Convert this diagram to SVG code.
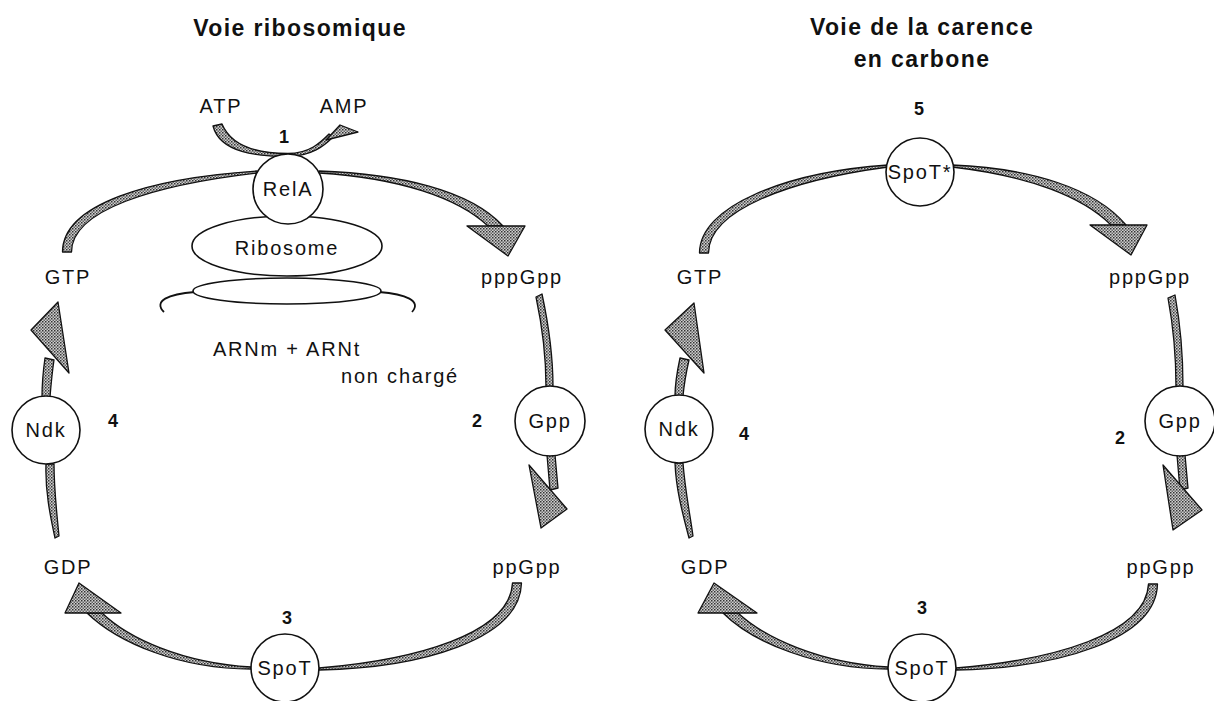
<svg xmlns="http://www.w3.org/2000/svg" width="1214" height="701" viewBox="0 0 1214 701">
<defs>
<pattern id="dots" width="3" height="3" patternUnits="userSpaceOnUse"><rect width="3" height="3" fill="#cfcfcf"/><rect width="1.5" height="1.5" fill="#333"/><rect x="1.5" y="1.5" width="1.5" height="1.5" fill="#666"/></pattern>
</defs>
<style>
text{font-family:"Liberation Sans",Arial,sans-serif;fill:#111;text-anchor:middle}
.lbl{font-size:20px;letter-spacing:1.8px}
.num{font-size:18px;font-weight:bold}
.ttl{font-size:23px;font-weight:bold;letter-spacing:1.4px}
.band{fill:url(#dots);stroke:#111;stroke-width:1.3;stroke-linejoin:round}
.node{fill:#fff;stroke:#111;stroke-width:1.6}
.ln{fill:none;stroke:#111;stroke-width:1.8}
</style>
<rect width="1214" height="701" fill="#fff"/>

<text class="ttl" x="300" y="36">Voie ribosomique</text>
<text class="ttl" x="922" y="35">Voie de la carence</text>
<text class="ttl" x="922" y="67">en carbone</text>

<g id="connectors">
<!-- left panel -->
<path class="band" d="M62.5,252 C62.5,204 150,178 257,171 L257,173 C154,185 71.5,210 71.5,252 Z"/>
<path class="band" d="M319,171 C400,174 470,190 503,226 L488,226 C458,198 400,178 319,173 Z"/>
<polygon class="band" points="467,226 525,226 508,256"/>
<path class="band" d="M213,126 C220,153 258,156.5 288,156.5 C312,156 324,146 333,137 L329,134 C321,142 310,153.5 288,153.5 C262,153.5 232,148 222,124 Z"/>
<polygon class="band" points="326,140 340,125 358,132"/>
<path class="band" d="M536,297 C542,325 546,355 546,387 L553,387 C553,355 548,322 542,294 Z"/>
<path class="band" d="M547,455 L550,490 L558,488 L555,455 Z"/>
<polygon class="band" points="529,465 567,509 541,528"/>
<path class="band" d="M521.5,583 C520,640 420,668 319,670 L319,668 C415,660 510,634 512.5,583 Z"/>
<path class="band" d="M251,667 C182,663 128,638 102,613 L87,613 C118,643 180,669 251,669 Z"/>
<polygon class="band" points="79,583 65,613 121,613"/>
<path class="band" d="M46,464 C45,490 50,515 55,538 L59,536 C57,515 54,490 54,464 Z"/>
<path class="band" d="M42,397 C42,385 43,372 45,358 L54,360 C52,373 51,385 50,397 Z"/>
<polygon class="band" points="58,302 31,330 69,373"/>
<!-- right panel -->
<path class="band" d="M699.5,253 C699.5,206 786,172 888,165 L888,167 C790,180 708.5,210 708.5,253 Z"/>
<path class="band" d="M952,165 C1030,168 1095,188 1126,225 L1111,225 C1083,197 1030,176 952,167 Z"/>
<polygon class="band" points="1090,225 1147,225 1131,255"/>
<path class="band" d="M1168,298 C1173,325 1176,355 1176,387 L1183,387 C1183,355 1180,322 1175,295 Z"/>
<path class="band" d="M1177,455 L1180,490 L1188,488 L1185,455 Z"/>
<polygon class="band" points="1163,465 1202,510 1173,530"/>
<path class="band" d="M1157.5,584 C1156,640 1058,668 956,670 L956,668 C1053,660 1146,634 1148.5,584 Z"/>
<path class="band" d="M888,667 C820,663 765,638 738,613 L723,613 C753,643 818,669 888,669 Z"/>
<polygon class="band" points="714,583 698,613 757,613"/>
<path class="band" d="M675,463 C676,490 683,515 689,538 L693,536 C690,514 685,490 683,463 Z"/>
<path class="band" d="M675,396 C675,384 677,372 680,358 L689,360 C686,373 684,385 683,396 Z"/>
<polygon class="band" points="694,303 665,330 704,373"/>
</g>

<g id="ribosome">
<path class="ln" d="M164,312 C153,301 168,294 195,292"/>
<path class="ln" d="M379,292 C406,294 422,301 412,312"/>
<ellipse class="node" cx="287" cy="291" rx="94" ry="13"/>
<ellipse class="node" cx="287" cy="246" rx="95" ry="30"/>
<text class="lbl" x="287" y="255">Ribosome</text>
</g>

<g id="relA"><circle class="node" cx="288" cy="189" r="35"/><text class="lbl" x="288" y="196">RelA</text></g>
<g id="atp"><text class="lbl" x="221" y="113">ATP</text></g>
<g id="amp"><text class="lbl" x="344" y="113">AMP</text></g>
<text class="num" x="284" y="143">1</text>
<g id="gtp-l"><text class="lbl" x="68" y="284">GTP</text></g>
<g id="pppgpp-l"><text class="lbl" x="522" y="284">pppGpp</text></g>
<g id="arn"><text class="lbl" x="287" y="356">ARNm + ARNt</text><text class="lbl" x="400" y="383">non chargé</text></g>
<g id="ndk-l"><circle class="node" cx="46" cy="430" r="34"/><text class="lbl" x="46" y="437">Ndk</text></g>
<text class="num" x="113" y="427">4</text>
<g id="gpp-l"><circle class="node" cx="550" cy="421" r="35"/><text class="lbl" x="550" y="428">Gpp</text></g>
<text class="num" x="477" y="427">2</text>
<g id="gdp-l"><text class="lbl" x="68" y="574">GDP</text></g>
<g id="ppgpp-l"><text class="lbl" x="527" y="574">ppGpp</text></g>
<text class="num" x="287" y="624">3</text>
<g id="spot-l"><circle class="node" cx="285" cy="668" r="34"/><text class="lbl" x="285" y="675">SpoT</text></g>

<text class="num" x="919" y="115">5</text>
<g id="spotstar"><circle class="node" cx="920" cy="172" r="34"/><text class="lbl" x="920" y="179">SpoT*</text></g>
<g id="gtp-r"><text class="lbl" x="700" y="284">GTP</text></g>
<g id="pppgpp-r"><text class="lbl" x="1150" y="284">pppGpp</text></g>
<g id="ndk-r"><circle class="node" cx="679" cy="429" r="34"/><text class="lbl" x="679" y="436">Ndk</text></g>
<text class="num" x="744" y="440">4</text>
<g id="gpp-r"><circle class="node" cx="1180" cy="421" r="35"/><text class="lbl" x="1180" y="428">Gpp</text></g>
<text class="num" x="1120" y="444">2</text>
<g id="gdp-r"><text class="lbl" x="705" y="574">GDP</text></g>
<g id="ppgpp-r"><text class="lbl" x="1161" y="574">ppGpp</text></g>
<text class="num" x="922" y="614">3</text>
<g id="spot-r"><circle class="node" cx="922" cy="668" r="34"/><text class="lbl" x="922" y="675">SpoT</text></g>
</svg>
